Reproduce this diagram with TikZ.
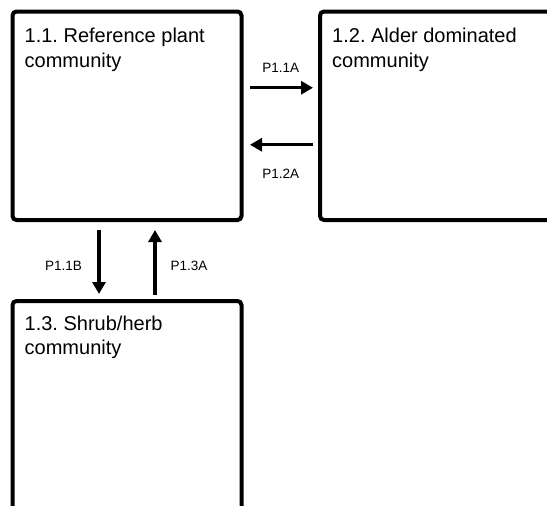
\documentclass[tikz,border=0pt]{standalone}
\usepackage{fontspec}
\setmainfont{Liberation Sans}
\usetikzlibrary{arrows.meta}
\frenchspacing

\begin{document}
\begin{tikzpicture}[x=1pt, y=-1pt,
  statebox/.style={draw=black, line width=4pt, rounded corners=4pt, inner sep=0pt},
  boxtext/.style={font=\fontsize{20}{24.3}\selectfont, align=left, inner sep=0pt, anchor=base west},
  trans/.style={line width=3.3pt, -{Triangle[length=12pt,width=13pt]}},
  translabel/.style={font=\fontsize{13.5}{15}\selectfont, inner sep=0pt}]
  \def\off{28pt}   % offset of the paired arrows from the box centre
  \def\tx{14pt}    % text inset from the box edge
  \useasboundingbox (0,0) rectangle (547,506);
  \clip (0,0) rectangle (547,506);
  % states
  \node[statebox, minimum width=229pt, minimum height=208.5pt] (s11) at (127,115.75) {};
  \node[statebox, minimum width=240pt, minimum height=208.5pt] (s12) at (440,115.75) {};
  \node[statebox, minimum width=229pt, minimum height=219pt]   (s13) at (127,410.5) {};
  % labels (base anchor sits on the last line)
  \node[boxtext] (t11) at ([xshift=\tx, yshift=-57.5pt]s11.north west) {1.1. Reference plant\\community};
  \node[boxtext] (t12) at ([xshift=\tx, yshift=-57.5pt]s12.north west) {1.2. Alder dominated\\community};
  \node[boxtext] (t13) at ([xshift=\tx, yshift=-55.5pt]s13.north west) {1.3. Shrub/herb\\community};
  % transitions
  \draw[trans, shorten <=6.5pt, shorten >=5pt] ([yshift=\off]s11.east) -- ([yshift=\off]s12.west)
    node[translabel, midway, above=14pt] (l11a) {P1.1A};
  \draw[trans, shorten <=5pt, shorten >=6.5pt] ([yshift=-29pt]s12.west) -- ([yshift=-29pt]s11.east)
    node[translabel, midway, below=23pt] (l12a) {P1.2A};
  \draw[trans, shorten <=8pt, shorten >=5pt] ([xshift=-\off]s11.south) -- ([xshift=-\off]s13.north)
    node[translabel, pos=0.57, left=15.5pt] (l11b) {P1.1B};
  \draw[trans, shorten <=4.5pt, shorten >=8pt] ([xshift=\off]s13.north) -- ([xshift=\off]s11.south)
    node[translabel, pos=0.43, right=14pt] (l13a) {P1.3A};
\end{tikzpicture}
\end{document}
